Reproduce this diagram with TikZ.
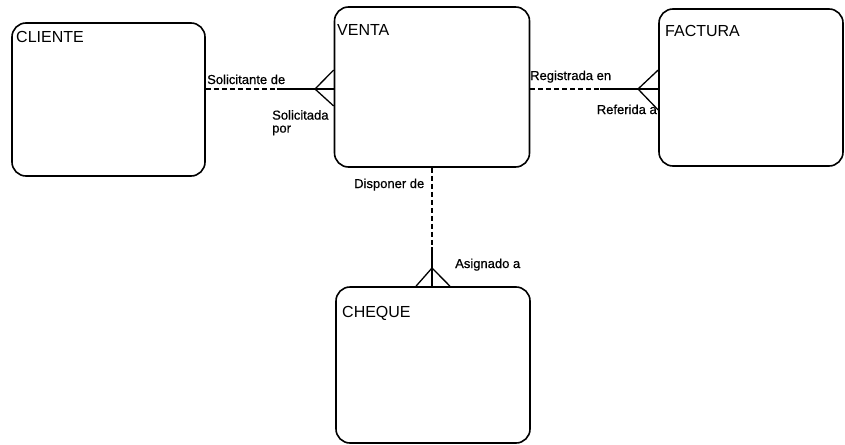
\documentclass[tikz,border=0pt]{standalone}
\usepackage{fontspec}
\setmainfont{Liberation Sans}
\newfontfamily\lblfont[FakeBold=0.6]{Liberation Sans}
\begin{document}
\begin{tikzpicture}[x=1pt,y=-1pt,
  entity/.style={draw,line width=1.6pt,rounded corners=14pt,inner sep=0pt},
  ename/.style={anchor=base west,inner sep=0pt,font=\fontsize{16}{18}\selectfont},
  rlabel/.style={anchor=base west,inner sep=0pt,font=\lblfont\fontsize{13}{13}\selectfont},
  rel/.style={line width=1.3pt},
  reldash/.style={line width=1.3pt,dash pattern=on 5pt off 3pt}]
\useasboundingbox (0,0) rectangle (845,444);
% entities
\node[entity,minimum width=193pt,minimum height=153pt] (cliente) at (108.5,99.5) {};
\node[entity,minimum width=195pt,minimum height=160pt] (venta) at (432,87) {};
\node[entity,minimum width=184pt,minimum height=157pt] (factura) at (751,87.5) {};
\node[entity,minimum width=194pt,minimum height=156pt] (cheque) at (433,365) {};
\node[ename] (tcliente) at (16,43) {CLIENTE};
\node[ename] (tventa) at (337,36) {VENTA};
\node[ename] (tfactura) at (665,37) {FACTURA};
\node[ename] (tcheque) at (342,317) {CHEQUE};
% helper coordinates
\coordinate (y89) at (0,89);
\coordinate (y70) at (0,70);
\coordinate (y106) at (0,106);
\coordinate (y110) at (0,110);
\coordinate (x432) at (432,0);
\coordinate (x416) at (416,0);
\coordinate (x450) at (450,0);
% CLIENTE -- VENTA
\coordinate (cv1) at (277,89);
\coordinate (cv2) at (315,89);
\draw[reldash] (cliente.east |- y89) -- (cv1);
\draw[rel] (cv1) -- (venta.west |- y89);
\draw[rel] (cv2) -- (venta.west |- y70);
\draw[rel] (cv2) -- (venta.west |- y106);
\node[rlabel] (l1) at (207,84) {Solicitante de};
\node[rlabel,align=left,anchor=north west] (l2) at (272,110) {Solicitada\\por};
% VENTA -- FACTURA
\coordinate (vf1) at (600,89);
\coordinate (vf2) at (638,89);
\draw[reldash] (venta.east |- y89) -- (vf1);
\draw[rel] (vf1) -- (factura.west |- y89);
\draw[rel] (vf2) -- (factura.west |- y70);
\draw[rel] (vf2) -- (factura.west |- y110);
\node[rlabel] (l3) at (530,80) {Registrada en};
\node[rlabel,anchor=base east] (l4) at (657,114) {Referida a};
% VENTA -- CHEQUE
\coordinate (vc1) at (432,247);
\coordinate (vc2) at (432,268);
\draw[reldash] (venta.south -| x432) -- (vc1);
\draw[rel] (vc1) -- (cheque.north -| x432);
\draw[rel] (vc2) -- (cheque.north -| x416);
\draw[rel] (vc2) -- (cheque.north -| x450);
\node[rlabel] (l5) at (354,188) {Disponer de};
\node[rlabel] (l6) at (455,268) {Asignado a};
\end{tikzpicture}
\end{document}
